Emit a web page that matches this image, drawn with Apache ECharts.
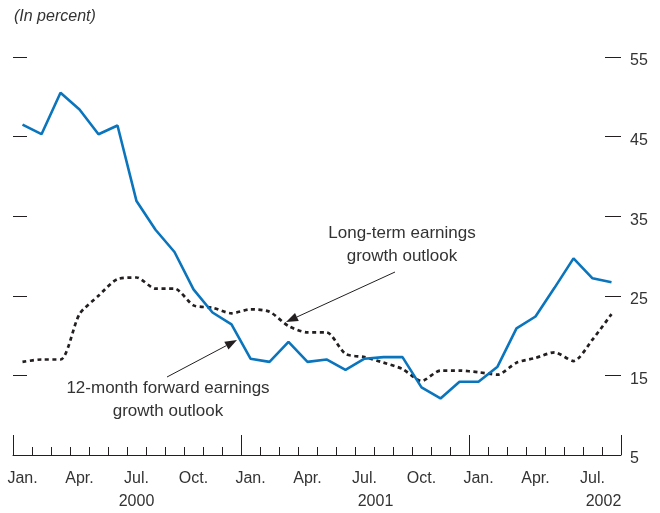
<!DOCTYPE html>
<html>
<head>
<meta charset="utf-8">
<script src="https://cdn.jsdelivr.net/npm/echarts@6/dist/echarts.min.js"></script>
<style>
  html, body { margin: 0; background: #fff; }
  #chart { width: 660px; height: 513px; }
</style>
</head>
<body>
<div id="chart"></div>
<script>
// monthly data, Jan. 2000 - Aug. 2002 (in percent)
const years = ['2000', '2001', '2002']
const monthNames = ['Jan.', 'Feb.', 'Mar.', 'Apr.', 'May', 'Jun.', 'Jul.', 'Aug.', 'Sep.', 'Oct.', 'Nov.', 'Dec.']
const forward12m = [46.5, 45.3, 50.5, 48.4, 45.3, 46.4, 36.9, 33.3, 30.5, 25.8, 22.9, 21.4,
  17.1, 16.7, 19.2, 16.7, 17.0, 15.7, 17.1, 17.3, 17.3, 13.5, 12.1, 14.2,
  14.2, 16.1, 20.9, 22.4, 26.0, 29.7, 27.2, 26.7]
const longTerm = [16.7, 17.0, 17.0, 22.7, 25.0, 27.1, 27.3, 25.9, 25.9, 23.8, 23.5, 22.8,
  23.3, 23.0, 21.2, 20.4, 20.4, 17.7, 17.3, 16.6, 15.8, 14.3, 15.6, 15.6,
  15.4, 15.1, 16.6, 17.2, 17.9, 16.8, 19.5, 22.7]
const yMin = 5, yMax = 55, yStep = 10

const FONT = '"Liberation Sans Narrow", "Liberation Sans", Arial, sans-serif'
const INK = '#231f20'
const TXT = '#333'

let categories = []
years.forEach(y => monthNames.forEach(m => categories.push(m + ' ' + y)))
categories = categories.slice(0, forward12m.length)

// arrow: thin line with filled head at the tip
function arrow(x1, y1, x2, y2) {
  const dx = x2 - x1, dy = y2 - y1
  const len = Math.sqrt(dx * dx + dy * dy)
  const ux = dx / len, uy = dy / len
  const L = 12, W = 4.5
  const bx = x2 - ux * L, by = y2 - uy * L
  return [
    { type: 'line', shape: { x1: x1, y1: y1, x2: bx, y2: by }, style: { stroke: INK, lineWidth: 1 } },
    { type: 'polygon', shape: { points: [[x2, y2], [bx - uy * W, by + ux * W], [bx + uy * W, by - ux * W]] }, style: { fill: INK } }
  ]
}

const yAxisBase = {
  type: 'value', min: yMin, max: yMax, interval: yStep,
  splitLine: { show: false },
  axisLine: { show: false },
  axisTick: { show: true, inside: true, length: 14, lineStyle: { color: INK, width: 1 } }
}

const option = {
  animation: false,
  title: {
    text: '(In percent)', left: 9, top: 4,
    textStyle: { fontFamily: FONT, fontSize: 16, fontStyle: 'italic', fontWeight: 'normal', color: TXT }
  },
  grid: { left: 13, right: 39, top: 57, bottom: 57, containLabel: false },
  xAxis: [{
    type: 'category', position: 'bottom', data: categories, boundaryGap: true,
    axisLine: { show: true, lineStyle: { color: INK, width: 1 } },
    axisTick: { show: true, inside: true, length: 8, interval: 0, lineStyle: { color: INK, width: 1 } },
    axisLabel: {
      interval: (i) => i % 3 === 0,
      margin: 12,
      fontFamily: FONT, fontSize: 16, color: TXT, lineHeight: 23,
      formatter: (v, i) => {
        const parts = v.split(' ')
        if (parts[0] === 'Jul.') {
          return parts[0] + '\n' + (parts[1] === '2000' ? '{y0|' : '{y1|') + parts[1] + '}'
        }
        return parts[0]
      },
      rich: {
        y0: { fontFamily: FONT, fontSize: 16, color: TXT, lineHeight: 23 },
        y1: { fontFamily: FONT, fontSize: 16, color: TXT, lineHeight: 23, padding: [0, 0, 0, 22] }
      }
    },
    splitLine: { show: false }
  }, {
    type: 'category', position: 'bottom', data: categories, boundaryGap: true,
    axisLine: { show: false },
    axisTick: { show: true, inside: true, length: 20, interval: (i) => i % 12 === 0, lineStyle: { color: INK, width: 1 } },
    axisLabel: { show: false },
    splitLine: { show: false }
  }],
  yAxis: [
    Object.assign({}, yAxisBase, { position: 'left', axisLabel: { show: false } }),
    Object.assign({}, yAxisBase, {
      position: 'right',
      axisTick: { show: true, inside: true, length: 16, lineStyle: { color: INK, width: 1 } },
      axisLabel: { show: true, margin: 9, fontFamily: FONT, fontSize: 16, color: TXT, verticalAlign: 'top', lineHeight: 8 }
    })
  ],
  series: [{
    name: '12-month forward earnings growth outlook',
    type: 'line', data: forward12m, xAxisIndex: 0, yAxisIndex: 1,
    symbol: 'none', z: 3,
    lineStyle: { color: '#0a75bd', width: 2.6 }
  }, {
    name: 'Long-term earnings growth outlook',
    type: 'line', data: longTerm, xAxisIndex: 0, yAxisIndex: 1,
    symbol: 'none', smooth: 0.25, z: 2,
    lineStyle: { color: INK, width: 2.7, type: [4, 3.5] }
  }],
  graphic: [
    { type: 'text', x: 402, y: 222, style: { text: 'Long-term earnings\ngrowth outlook', align: 'center', fontFamily: FONT, fontSize: 17, lineHeight: 23, fill: TXT } },
    { type: 'text', x: 168, y: 377, style: { text: '12-month forward earnings\ngrowth outlook', align: 'center', fontFamily: FONT, fontSize: 17, lineHeight: 23, fill: TXT } }
  ].concat(arrow(395, 272, 286, 322)).concat(arrow(167, 377, 237, 340))
}

const myChart = echarts.init(document.getElementById('chart'))
myChart.setOption(option)
</script>
</body>
</html>
